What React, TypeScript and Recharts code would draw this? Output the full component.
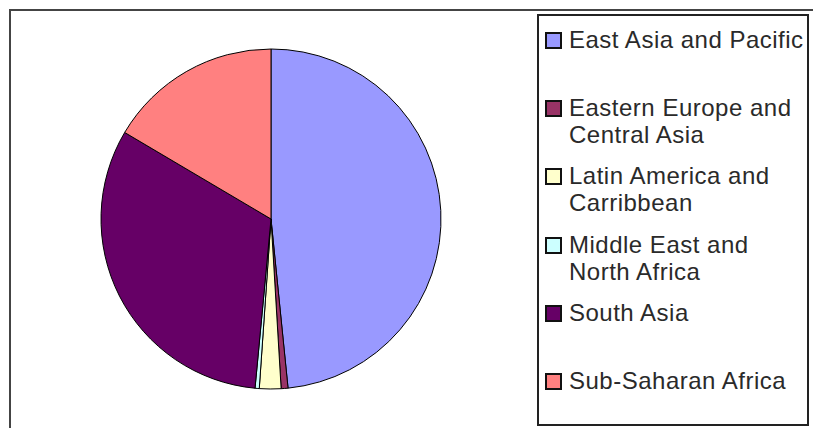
import { PieChart, Pie, Cell } from "recharts";

const regions = [
  "East Asia and Pacific",
  "Eastern Europe and Central Asia",
  "Latin America and Carribbean",
  "Middle East and North Africa",
  "South Asia",
  "Sub-Saharan Africa"
];

const shares = [48.4, 0.65, 2.05, 0.4, 32.0, 16.5];

const colors = ["#9999FF", "#993366", "#FFFFCC", "#CCFFFF", "#660066", "#FF8080"];

const data = regions.map((name, i) => ({ name, value: shares[i] }));

function LegendBox() {
  return (
    <div
      style={{
        position: "absolute",
        left: 537,
        top: 14,
        width: 268,
        height: 408,
        border: "2px solid #222",
        background: "#fff",
        fontFamily: "'Liberation Sans', Arial, sans-serif",
        fontSize: 24,
        color: "#2a2a2a",
        letterSpacing: 0.5
      }}
    >
      {regions.map((name, i) => (
        <div
          key={name}
          style={{
            position: "absolute",
            left: 6,
            top: 10 + i * 68.2,
            display: "flex",
            alignItems: "flex-start"
          }}
        >
          <div
            style={{
              width: 13,
              height: 13,
              marginTop: 6,
              border: "2px solid #111",
              background: colors[i],
              flex: "none"
            }}
          />
          <div style={{ marginLeft: 7, width: 238, lineHeight: "27px" }}>{name}</div>
        </div>
      ))}
    </div>
  );
}

export default function App() {
  return (
    <div
      style={{
        position: "absolute",
        left: 0,
        top: 0,
        width: 813,
        height: 428,
        overflow: "hidden",
        background: "#fff"
      }}
    >
      <div
        style={{
          position: "absolute",
          left: 9,
          top: 9,
          width: 900,
          height: 500,
          borderTop: "2px solid #444",
          borderLeft: "2px solid #444"
        }}
      />
      <div style={{ position: "absolute", left: 0, top: 0 }}>
        <PieChart width={540} height={428} margin={{ top: 0, right: 0, bottom: 0, left: 0 }}>
          <Pie
            data={data}
            dataKey="value"
            nameKey="name"
            cx={271}
            cy={219}
            outerRadius={170}
            startAngle={90}
            endAngle={-270}
            stroke="#000"
            strokeWidth={1}
            isAnimationActive={false}
          >
            {data.map((d, i) => (
              <Cell key={d.name} fill={colors[i]} />
            ))}
          </Pie>
        </PieChart>
      </div>
      <LegendBox />
    </div>
  );
}
